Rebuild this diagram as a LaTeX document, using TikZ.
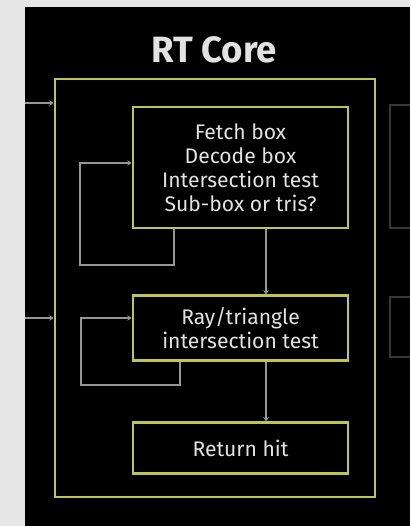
\documentclass[tikz,border=0pt]{standalone}
\usepackage{fontspec}
\setmainfont{Fira Sans}
\usetikzlibrary{arrows.meta, positioning}
\definecolor{coreyellow}{RGB}{190,196,88}
\definecolor{linegray}{RGB}{150,150,150}
\definecolor{dimgray}{RGB}{56,56,56}
\definecolor{textgray}{RGB}{226,226,226}
\definecolor{pagegray}{RGB}{230,230,230}
\newcommand{\stagewidth}{5.375cm}
\tikzstyle{core} = [% outer core frame
  rectangle,
  minimum width=8cm,
  minimum height=10.45cm,
  draw=coreyellow,
  line width=2pt
  ]
\tikzstyle{stage} = [% pipeline stage box
  rectangle,
  minimum width=\stagewidth,
  align=center,
  text centered,
  text=textgray,
  font=\fontsize{15}{17}\selectfont,
  draw=coreyellow,
  line width=2pt
  ]
\tikzstyle{heading} = [% title text
  text=textgray,
  font=\bfseries\fontsize{26}{31}\selectfont
  ]
\tikzstyle{flow} = [% arrow format
  draw=linegray,
  line width=1.4pt,
  -{Stealth[length=3pt, width=4pt]}
  ]
\tikzstyle{cutline} = [% lines cut off at the edge
  draw=dimgray,
  line width=1.4pt
  ]

\begin{document}
\begin{tikzpicture}[x=0.025cm, y=-0.025cm]
\useasboundingbox (0,0) rectangle (410,526);
\fill[pagegray] (0,0) rectangle (410,526);
\fill[black] (25,7) rectangle (410,526);

%%% Nodes
\node[heading] (title) at (214,50) {RT Core};
\node[core] (core) at (215,288) {};
\node[stage, minimum height=3.025cm] (fetch) at (240.5,167.5) {Fetch box\\Decode box\\Intersection test\\Sub-box or tris?};
\node[stage, minimum height=1.625cm] (ray) [below=1.625cm of fetch] {Ray/triangle\\intersection test};
\node[stage, minimum height=1.275cm] (ret) [below=1.475cm of ray] {Return hit};

%%% Coordinates
\coordinate (in1) at (25,103);
\coordinate (in2) at (25,318);
\coordinate (down) at (266,0);
\coordinate (fetchloop) at (174,265);
\coordinate (fetchback) at (80,163);
\coordinate (rayloop) at (180,385);
\coordinate (rayback) at (81,318);

%%% Connectors
\draw[flow] (in1) -- (in1 -| core.west);
\draw[flow] (in2) -- (in2 -| core.west);
\draw[flow] (fetch.south -| down) -- (ray.north -| down);
\draw[flow] (ray.south -| down) -- (ret.north -| down);
\draw[flow] (fetch.south -| fetchloop) -- (fetchloop) -| (fetchback) -- (fetchback -| fetch.west);
\draw[flow] (ray.south -| rayloop) -- (rayloop) -| (rayback) -- (rayback -| ray.west);

%%% Cut-off lines on the right
\draw[cutline] (410,105) -- (390,105) -- (390,228) -- (410,228);
\draw[cutline] (410,297) -- (390,297) -- (390,357) -- (410,357);

\end{tikzpicture}
\end{document}
